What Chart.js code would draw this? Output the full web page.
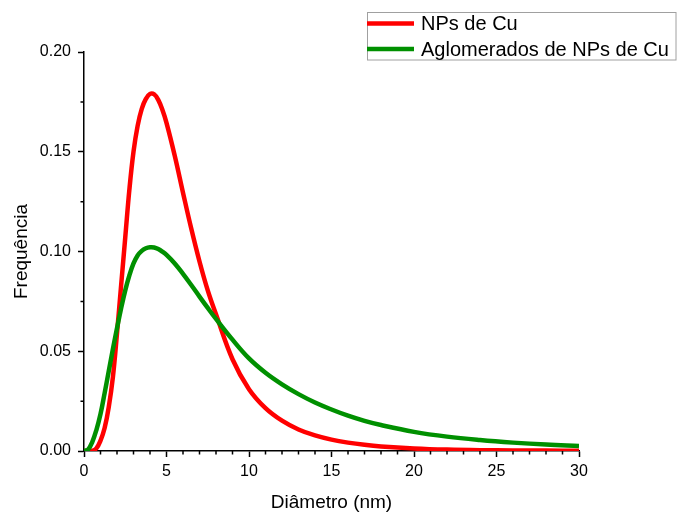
<!DOCTYPE html>
<html>
<head>
<meta charset="utf-8">
<script src="https://cdn.jsdelivr.net/npm/chart.js@4.4.1/dist/chart.umd.min.js"></script>
<style>
  body { margin: 0; background: #fff; }
</style>
</head>
<body>
<canvas id="distChart" width="678" height="514"></canvas>
<script>
// diameter (nm)
const diameters = [0, 0.25, 0.5, 0.75, 1, 1.25, 1.5, 1.75, 2, 2.25, 2.5, 2.75, 3, 3.25, 3.5, 3.75,
    4, 4.25, 4.5, 4.75, 5, 5.5, 6, 6.5, 7, 7.5, 8, 9, 10, 11, 12, 13, 14, 15, 16, 17, 18,
    20, 22, 24, 26, 28, 30];
// NPs de Cu
const freqNPs = [0, 0, 0.0001, 0.0013, 0.0052, 0.0115, 0.022, 0.037, 0.059, 0.083, 0.107, 0.131, 0.150, 0.163, 0.1715, 0.1765,
    0.179, 0.1788, 0.176, 0.171, 0.1645, 0.148, 0.1295, 0.1115, 0.095, 0.0805, 0.0685, 0.046, 0.031, 0.0215, 0.0152, 0.0108, 0.0078, 0.0057, 0.0042, 0.0031, 0.0023,
    0.0013, 0.0007, 0.0004, 0.0003, 0.0002, 0.0001];
// Aglomerados de NPs de Cu
const freqAglom = [0, 0.0008, 0.0045, 0.0105, 0.0185, 0.029, 0.040, 0.051, 0.0615, 0.0715, 0.0805, 0.088, 0.094, 0.098, 0.1003, 0.1016,
    0.1021, 0.102, 0.1012, 0.0999, 0.0983, 0.094, 0.0888, 0.0832, 0.0774, 0.0717, 0.0662, 0.0558, 0.0464, 0.0392, 0.0334, 0.0285, 0.0243, 0.0208, 0.0177, 0.0151, 0.0130,
    0.0096, 0.0072, 0.0055, 0.0042, 0.0032, 0.0025];

const seriesNames = ['NPs de Cu', 'Aglomerados de NPs de Cu'];
const xTicks = [0, 5, 10, 15, 20, 25, 30];
const yTicks = [0, 0.05, 0.10, 0.15, 0.20];

const fontFam = '"Liberation Sans", Arial, sans-serif';

function toPoints(ys) {
    return diameters.map((d, i) => ({ x: d, y: ys[i] }));
}

// minor ticks (every 1 nm on x, every 0.025 on y)
const minorTicks = {
    id: 'minorTicks',
    afterDatasetsDraw(chart) {
        const ctx = chart.ctx;
        const xs = chart.scales.x, ys = chart.scales.y;
        const area = chart.chartArea;
        ctx.save();
        ctx.strokeStyle = '#000';
        ctx.lineWidth = 1.5;
        ctx.beginPath();
        for (let v = 1; v < 30; v++) {
            if (v % 5 === 0) continue;
            const px = xs.getPixelForValue(v);
            ctx.moveTo(px, area.bottom);
            ctx.lineTo(px, area.bottom + 3.5);
        }
        for (let v = 0.025; v < 0.2; v += 0.05) {
            const py = ys.getPixelForValue(v);
            ctx.moveTo(area.left, py);
            ctx.lineTo(area.left - 3.5, py);
        }
        ctx.stroke();
        ctx.restore();
    }
};

// boxed legend in the top right corner
const boxLegend = {
    id: 'boxLegend',
    afterDraw(chart) {
        const ctx = chart.ctx;
        const sets = chart.data.datasets;
        ctx.save();
        ctx.strokeStyle = '#a0a0a0';
        ctx.lineWidth = 1;
        ctx.strokeRect(367.5, 12.5, 308.5, 47.5);
        const rows = [23.5, 49];
        seriesNames.forEach((name, i) => {
            ctx.strokeStyle = sets[i].borderColor;
            ctx.lineWidth = 4.5;
            ctx.beginPath();
            ctx.moveTo(367, rows[i]);
            ctx.lineTo(414, rows[i]);
            ctx.stroke();
            ctx.fillStyle = '#000';
            ctx.font = '20px ' + fontFam;
            ctx.textBaseline = 'middle';
            ctx.textAlign = 'left';
            ctx.fillText(name, 421, rows[i] + 1);
        });
        ctx.restore();
    }
};

const ctx = document.getElementById('distChart').getContext('2d');
const myChart = new Chart(ctx, {
    type: 'line',
    data: {
        datasets: [{
            label: seriesNames[0],
            data: toPoints(freqNPs),
            borderColor: '#ff0000',
            borderWidth: 4.5,
            pointRadius: 0,
            tension: 0.4,
            order: 1
        }, {
            label: seriesNames[1],
            data: toPoints(freqAglom),
            borderColor: '#009000',
            borderWidth: 4.5,
            pointRadius: 0,
            tension: 0.4,
            order: 0
        }]
    },
    options: {
        responsive: false,
        animation: false,
        layout: { padding: { top: 52, right: 99, left: 0, bottom: 0 } },
        plugins: {
            legend: { display: false },
            tooltip: { enabled: false }
        },
        scales: {
            x: {
                type: 'linear',
                min: 0,
                max: 30,
                afterFit(scale) { scale.height = 63; },
                afterBuildTicks(scale) { scale.ticks = xTicks.map(v => ({ value: v })); },
                border: { display: true, color: '#000', width: 1.5 },
                grid: { drawOnChartArea: false, drawTicks: true, tickLength: 6, tickColor: '#000', tickWidth: 1.5 },
                ticks: {
                    color: '#000',
                    padding: 5,
                    maxRotation: 0,
                    font: { family: fontFam, size: 16 },
                    callback: v => String(v)
                },
                title: {
                    display: true,
                    text: 'Diâmetro (nm)',
                    color: '#000',
                    font: { family: fontFam, size: 19, lineHeight: 1 },
                    padding: { top: 0, bottom: 1.5 }
                }
            },
            y: {
                min: 0,
                max: 0.2,
                afterFit(scale) { scale.width = 84; },
                afterBuildTicks(scale) { scale.ticks = yTicks.map(v => ({ value: v })); },
                border: { display: true, color: '#000', width: 1.5 },
                grid: { drawOnChartArea: false, drawTicks: true, tickLength: 6, tickColor: '#000', tickWidth: 1.5 },
                ticks: {
                    color: '#000',
                    padding: 7,
                    font: { family: fontFam, size: 16 },
                    callback: v => v.toFixed(2)
                },
                title: {
                    display: true,
                    text: 'Frequência',
                    color: '#000',
                    font: { family: fontFam, size: 19, lineHeight: 1 },
                    padding: { top: 12.5, bottom: 0 }
                }
            }
        }
    },
    plugins: [minorTicks, boxLegend]
});
</script>
</body>
</html>
